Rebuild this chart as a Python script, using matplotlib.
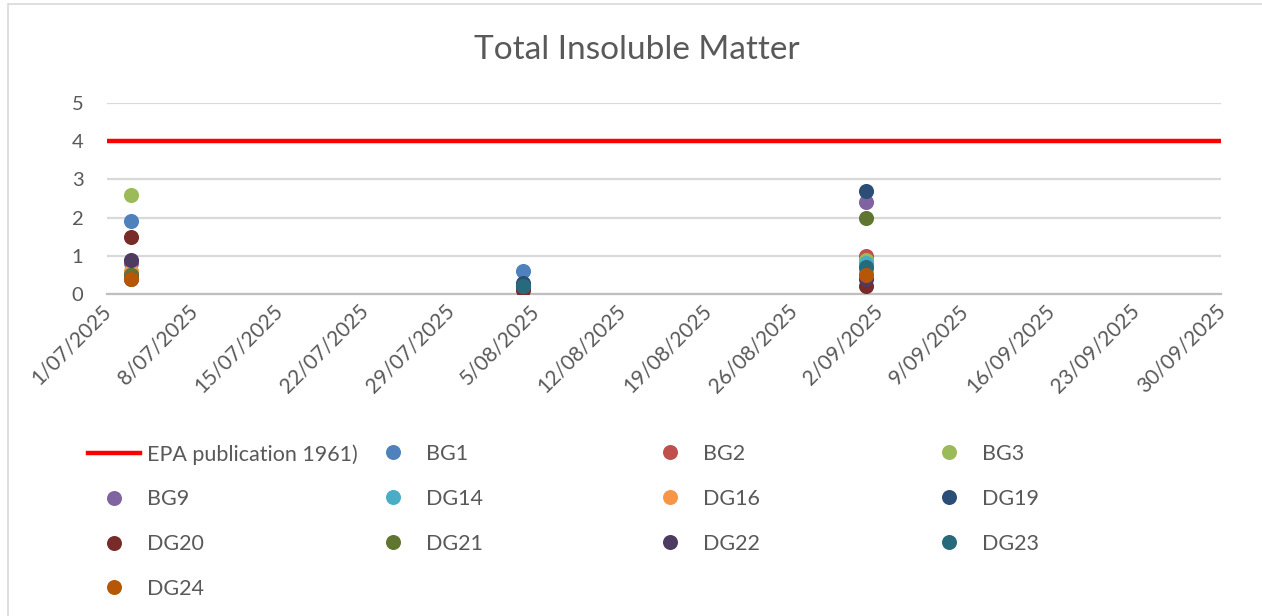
import matplotlib
matplotlib.use("Agg")
import matplotlib.pyplot as plt
import matplotlib.dates as mdates
from matplotlib.lines import Line2D
from matplotlib.patches import Rectangle
from matplotlib.ticker import FixedLocator, FuncFormatter
import datetime as dt

plt.rcParams['font.family'] = ['Lato', 'DejaVu Sans']

# ---- data ----
sample_dates = ["2025-07-03", "2025-08-04", "2025-09-01"]
series_names = ["BG1", "BG2", "BG3", "BG9", "DG14", "DG16", "DG19", "DG20", "DG21", "DG22", "DG23", "DG24"]
BG1 = [1.9, 0.6, 0.6]
BG2 = [0.5, 0.2, 1.0]
BG3 = [2.6, 0.2, 0.9]
BG9 = [0.8, 0.2, 2.4]
DG14 = [0.5, 0.2, 0.8]
DG16 = [0.6, 0.2, 0.6]
DG19 = [0.5, 0.3, 2.7]
DG20 = [1.5, 0.1, 0.2]
DG21 = [0.5, 0.2, 2.0]
DG22 = [0.9, 0.2, 0.4]
DG23 = [0.4, 0.2, 0.7]
DG24 = [0.4, float('nan'), 0.5]
series_values = [BG1, BG2, BG3, BG9, DG14, DG16, DG19, DG20, DG21, DG22, DG23, DG24]
series_colors = ["#4F81BD", "#C0504D", "#9BBB59", "#8064A2", "#4BACC6", "#F79646",
                 "#2C4D75", "#772C2A", "#5F7530", "#4D3B62", "#276A7C", "#B65708"]
epa_label = "EPA publication 1961)"
epa_dates = ["2025-07-01", "2025-09-30"]
epa_values = [4, 4]
axis_start = "2025-07-01"
axis_end = "2025-09-30"
tick_step_days = 7
y_ticks = [0, 1, 2, 3, 4, 5]
title = "Total Insoluble Matter"

TXT = "#595959"
W, H = 1262, 616
fig = plt.figure(figsize=(W / 100, H / 100), dpi=100)

# chart border
fig.patches.append(Rectangle((8 / W, -0.1), 1.2, 1.1 - 4 / H, transform=fig.transFigure,
                             fill=False, edgecolor="#D9D9D9", linewidth=1.2))

ax = fig.add_axes([107 / W, 1 - 294 / H, (1221 - 107) / W, (294 - 103) / H])

def todate(s):
    return dt.datetime.strptime(s, "%Y-%m-%d")

x_pts = [todate(s) for s in sample_dates]
ax.plot([todate(s) for s in epa_dates], epa_values, color="#FF0000", linewidth=3.2,
        solid_capstyle="butt", zorder=3)
for name, vals, col in zip(series_names, series_values, series_colors):
    ax.scatter(x_pts, vals, s=118, color=col, linewidths=0, zorder=4)

x0, x1 = todate(axis_start), todate(axis_end)
ax.set_xlim(mdates.date2num(x0), mdates.date2num(x1))
ax.set_ylim(0, 5)
ticks = []
d = x0
while d <= x1:
    ticks.append(mdates.date2num(d))
    d += dt.timedelta(days=tick_step_days)
ax.xaxis.set_major_locator(FixedLocator(ticks))

def fmt(v, pos):
    dd = mdates.num2date(v)
    return f"{dd.day}/{dd.month:02d}/{dd.year}"

ax.xaxis.set_major_formatter(FuncFormatter(fmt))
ax.set_yticks(y_ticks)
ax.yaxis.grid(True, color="#D9D9D9", linewidth=1.6)
ax.set_axisbelow(True)
for s in ["top", "right", "left"]:
    ax.spines[s].set_visible(False)
ax.spines["bottom"].set_color("#BFBFBF")
ax.spines["bottom"].set_linewidth(1.6)
ax.tick_params(axis="both", length=0, colors=TXT)
ax.tick_params(axis="y", pad=17, labelsize=14.5)
ax.tick_params(axis="x", pad=9, labelsize=15)
for lab in ax.get_xticklabels():
    lab.set_rotation(45)
    lab.set_ha("right")
    lab.set_va("center_baseline")
    lab.set_rotation_mode("anchor")

fig.text(637 / W, 1 - 50 / H, title, ha="center", va="center", fontsize=24, color=TXT)

# legend: 4 columns, row-major ordering like the original
epa_handle = Line2D([], [], color="#FF0000", linewidth=3.2)
handles = [epa_handle] + [Line2D([], [], linestyle="none", marker="o", markersize=10.8,
                                 markerfacecolor=c, markeredgewidth=0) for c in series_colors]
labels = [epa_label] + series_names
col_x = [88, 367, 644, 923]
fs = 15.5
for ci in range(4):
    idx = list(range(ci, len(handles), 4))
    leg = fig.legend([handles[i] for i in idx], [labels[i] for i in idx],
                     loc="upper left", bbox_to_anchor=(col_x[ci] / W, 1 - 444 / H),
                     frameon=False, fontsize=fs, labelcolor=TXT,
                     handlelength=52 / (fs * 100 / 72), handletextpad=7 / (fs * 100 / 72),
                     borderpad=0, borderaxespad=0, labelspacing=1.15)

fig.savefig("out.png", dpi=100)
